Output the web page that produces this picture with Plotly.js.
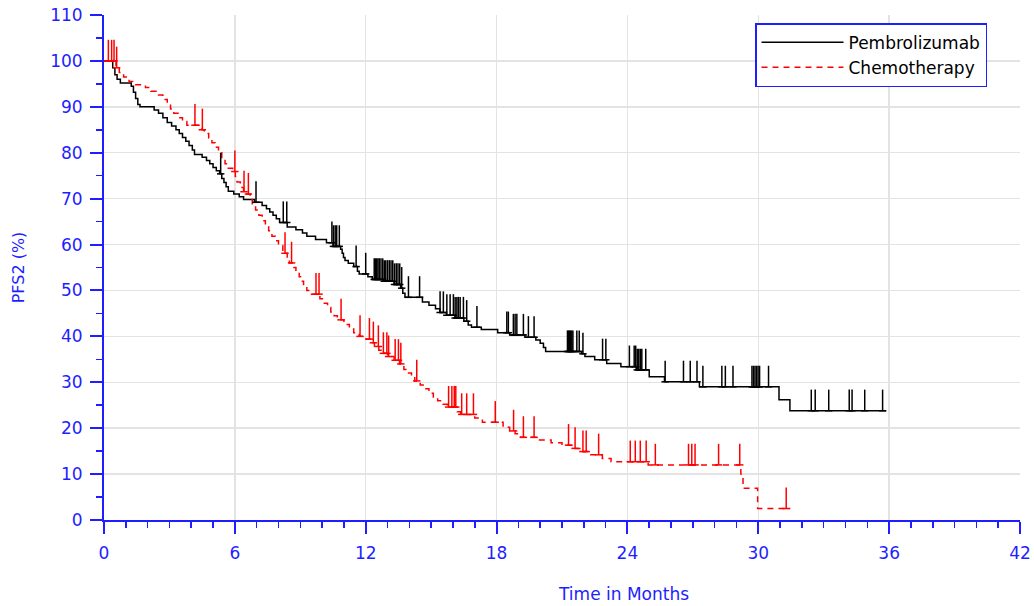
<!DOCTYPE html>
<html>
<head>
<meta charset="utf-8">
<script src="https://cdn.plot.ly/plotly-3.0.1.min.js"></script>
<style>
html,body{margin:0;padding:0;background:#ffffff;}
#chart{width:1034px;height:606px;}
</style>
</head>
<body>
<div id="chart"></div>
<script>
// ---------------- DATA ----------------
const seriesNames = ["Pembrolizumab", "Chemotherapy"];

// Kaplan-Meier step points (time in months, PFS2 %)
const pembroTime = [0, 0.4, 0.5, 0.6, 0.75, 1.25, 1.35, 1.45, 1.55, 1.65, 2.3, 2.5, 2.7, 2.9, 3.1, 3.3, 3.45, 3.6, 3.75, 3.9,
  4.05, 4.15, 4.5, 4.7, 4.85, 5.0, 5.15, 5.3, 5.4, 5.5, 5.6, 5.7, 5.95, 6.2, 6.4, 6.9, 7.25, 7.45, 7.6, 7.75,
  7.9, 8.05, 8.4, 8.8, 9.1, 9.3, 9.7, 10.2, 10.5, 10.85, 10.92, 10.98, 11.05, 11.2, 11.45, 11.62, 11.7, 12.1, 12.3, 12.8,
  13.3, 13.6, 13.7, 13.8, 14.6, 14.9, 15.2, 15.4, 15.7, 16.1, 16.5, 16.7, 16.85, 17.3, 18.05, 18.6, 19.3, 19.8, 20.0, 20.15,
  20.25, 21.9, 22.05, 22.5, 23.05, 23.7, 24.4, 25.0, 25.7, 27.3, 30.95, 31.45, 35.86];
const pembroSurv = [100, 98.5, 97, 96, 95.2, 94.5, 93.2, 91.8, 90.5, 90, 89.3, 88.6, 87.6, 86.6, 85.8, 85.0, 84.2, 83.3, 82.5, 81.6,
  80.6, 79.6, 79.0, 78.3, 77.6, 76.8, 76.1, 75.4, 74.4, 73.5, 72.6, 71.6, 71.0, 70.4, 69.8, 69.2, 68.5, 67.8, 67.1, 66.4,
  65.6, 64.8, 63.8, 63.2, 62.5, 61.8, 61.1, 60.4, 59.6, 59.0, 58.1, 57.2, 56.5, 55.9, 55.2, 54.2, 53.6, 53.0, 52.4, 52.0,
  51.3, 50.5, 49.4, 48.5, 47.5, 46.8, 46.0, 45.2, 44.6, 44.0, 43.3, 42.5, 42.0, 41.5, 40.8, 40.3, 39.8, 39.2, 38.5, 37.6,
  36.7, 36.2, 35.6, 34.9, 34.1, 33.4, 32.7, 31.2, 30.1, 29.0, 26.2, 23.8, 23.8];
const pembroCensored = [5.35, 6.97, 8.22, 8.38, 10.45, 10.52, 10.6, 10.67, 10.79, 11.56, 12.0,
  12.39, 12.45, 12.5, 12.56, 12.62, 12.7, 12.78, 12.85, 12.92, 13.0, 13.08, 13.16, 13.24, 13.32, 13.4, 13.48, 13.56, 13.65,
  13.96, 14.47, 15.41, 15.56, 15.72, 15.87, 16.02, 16.1, 16.18, 16.25, 16.33, 16.48, 16.63, 17.1,
  18.47, 18.54, 18.77, 18.85, 18.93, 19.23, 19.46, 19.72,
  21.25, 21.3, 21.35, 21.4, 21.45, 21.5, 21.68, 21.79, 21.96, 22.86, 23.01,
  24.09, 24.31, 24.38, 24.45, 24.52, 24.59, 24.66, 24.84, 25.73, 26.57, 26.88, 27.19, 27.46, 28.33, 28.49, 28.84,
  29.71, 29.78, 29.85, 29.92, 29.99, 30.06, 30.47, 32.43, 32.61, 33.23, 34.17, 34.3, 34.88, 35.7];

const chemoTime = [0, 0.55, 0.7, 0.9, 1.15, 1.45, 1.9, 2.15, 2.5, 2.7, 2.9, 3.05, 3.2, 3.4, 3.6, 3.8, 4.5, 4.6, 4.8, 4.95,
  5.1, 5.25, 5.4, 5.55, 5.7, 5.9, 6.02, 6.1, 6.25, 6.4, 6.5, 6.7, 6.8, 6.95, 7.1, 7.25, 7.4, 7.55, 7.7, 7.85,
  8.0, 8.2, 8.4, 8.5, 8.7, 8.8, 8.95, 9.05, 9.15, 9.3, 9.45, 9.9, 10.05, 10.25, 10.4, 10.55, 10.7, 11.0, 11.25, 11.45,
  11.7, 12.0, 12.2, 12.4, 12.6, 12.8, 13.0, 13.3, 13.55, 13.75, 13.85, 14.1, 14.25, 14.5, 14.7, 14.9, 15.1, 15.3, 15.55, 15.75,
  16.2, 16.35, 17.0, 17.35, 18.3, 18.6, 18.85, 19.1, 19.8, 20.5, 21.0, 21.45, 21.95, 22.25, 22.85, 23.25, 24.95, 29.2, 29.3, 29.97, 31.47];
const chemoSurv = [100, 98.5, 97.5, 96.5, 95.5, 94.8, 94.2, 93.4, 92.6, 91.6, 90.6, 89.5, 88.6, 87.6, 86.8, 86.0, 85.0, 84.2, 83.2, 82.2,
  81.2, 80.0, 78.8, 77.6, 76.6, 75.9, 74.8, 73.6, 72.4, 71.5, 71.0, 69.8, 68.6, 67.5, 66.4, 65.2, 64.1, 63.0, 61.8, 60.8,
  59.8, 58.1, 57.0, 56.0, 55.0, 54.0, 53.0, 52.0, 51.0, 50.0, 49.2, 48.2, 47.2, 46.3, 45.3, 44.5, 43.6, 42.6, 41.6, 40.8,
  40.0, 39.4, 38.6, 37.8, 37.0, 36.3, 35.6, 34.8, 34.0, 32.8, 32.0, 31.2, 30.3, 29.4, 28.6, 27.6, 26.8, 26.0, 25.2, 24.6,
  23.6, 23.0, 22.2, 21.3, 20.2, 19.4, 18.8, 18.0, 17.4, 16.8, 16.3, 15.6, 14.9, 14.2, 13.4, 12.7, 12.0, 10.0, 6.9, 2.5, 2.5];
const chemoCensored = [0.2, 0.35, 0.46, 0.58, 4.17, 4.51, 6.0, 6.42, 6.62, 8.3, 8.6, 9.72, 9.86, 10.87, 11.74,
  12.17, 12.35, 12.58, 12.81, 12.97, 13.05, 13.35, 13.5, 13.61, 14.34, 15.8, 15.95, 16.06, 16.13, 16.4, 16.63, 16.94,
  17.94, 18.78, 19.23, 19.72, 21.3, 21.6, 21.96, 22.11, 22.68, 24.13, 24.36, 24.59, 24.86, 25.28,
  26.8, 26.95, 27.1, 28.18, 29.15, 31.28];

const xTickVals = [0, 6, 12, 18, 24, 30, 36, 42];
const yTickVals = [0, 10, 20, 30, 40, 50, 60, 70, 80, 90, 100, 110];

// ---------------- STYLE ----------------
const BLUE = '#1e1eff';
const FONT = 'DejaVu Sans, Verdana, sans-serif';
const TICK_H = 4.6;   // censor tick height (% units)
const FOOT = 0.17;    // half-width of censor tick base (months)

function stepAt(times, surv, t) {
  let s = surv[0];
  for (let i = 0; i < times.length; i++) {
    if (times[i] <= t) s = surv[i]; else break;
  }
  return s;
}
function censorMarks(times, surv, cens) {
  const x = [], y = [];
  cens.forEach(t => {
    const s = stepAt(times, surv, t);
    x.push(t - FOOT, t + FOOT, null, t, t, null);
    y.push(s, s, null, s, s + TICK_H, null);
  });
  return {x, y};
}

const pc = censorMarks(pembroTime, pembroSurv, pembroCensored);
const cc = censorMarks(chemoTime, chemoSurv, chemoCensored);

const traces = [
  {x: pembroTime, y: pembroSurv, type: 'scatter', mode: 'lines', name: seriesNames[0],
   line: {shape: 'hv', color: '#000000', width: 1.5}, hoverinfo: 'x+y'},
  {x: chemoTime, y: chemoSurv, type: 'scatter', mode: 'lines', name: seriesNames[1],
   line: {shape: 'hv', color: '#ff0000', width: 1.5, dash: '6px,5px'}, hoverinfo: 'x+y'},
  {x: pc.x, y: pc.y, type: 'scatter', mode: 'lines', showlegend: false, connectgaps: false,
   line: {color: '#000000', width: 1.5}, hoverinfo: 'skip'},
  {x: cc.x, y: cc.y, type: 'scatter', mode: 'lines', showlegend: false, connectgaps: false,
   line: {color: '#ff0000', width: 1.5}, hoverinfo: 'skip'}
];

const axisCommon = {
  showline: true, linecolor: BLUE, linewidth: 2,
  ticks: 'outside', ticklen: 12, tickwidth: 2, tickcolor: BLUE,
  showgrid: true, gridcolor: '#e3e3e3', gridwidth: 1.5, zeroline: false,
  tickfont: {family: FONT, size: 17, color: BLUE}, fixedrange: true
};

const layout = {
  width: 1034, height: 606,
  margin: {l: 104, r: 14, t: 15, b: 86},
  paper_bgcolor: '#ffffff', plot_bgcolor: '#ffffff',
  font: {family: FONT, size: 16, color: BLUE},
  xaxis: Object.assign({}, axisCommon, {
    range: [0, 42], tickmode: 'array', tickvals: xTickVals, ticklabelstandoff: 5,
    minor: {tick0: 0, dtick: 1, ticks: 'outside', ticklen: 6, tickwidth: 1.5, tickcolor: BLUE, showgrid: false}
  }),
  yaxis: Object.assign({}, axisCommon, {
    range: [0, 110], tickmode: 'array', tickvals: yTickVals, ticklabelstandoff: 4,
    title: {text: 'PFS2 (%)', font: {family: FONT, size: 16, color: BLUE}, standoff: 22},
    minor: {tick0: 0, dtick: 5, ticks: 'outside', ticklen: 6, tickwidth: 1.5, tickcolor: BLUE, showgrid: false}
  }),
  legend: {
    x: 0.7107, y: 0.984, xanchor: 'left', yanchor: 'top',
    bordercolor: BLUE, borderwidth: 1.5, bgcolor: '#ffffff',
    font: {family: FONT, size: 17, color: '#000000'},
    itemwidth: 82, tracegroupgap: 0,
    entrywidth: 252, entrywidthmode: 'pixels'
  },
  annotations: [{
    text: 'Time in Months', xref: 'paper', yref: 'paper', x: 0.5666, y: -0.1465,
    xanchor: 'center', yanchor: 'middle', showarrow: false,
    font: {family: FONT, size: 17, color: BLUE}
  }],
  showlegend: true
};

Plotly.newPlot('chart', traces, layout, {displayModeBar: false, staticPlot: true});
</script>
</body>
</html>
